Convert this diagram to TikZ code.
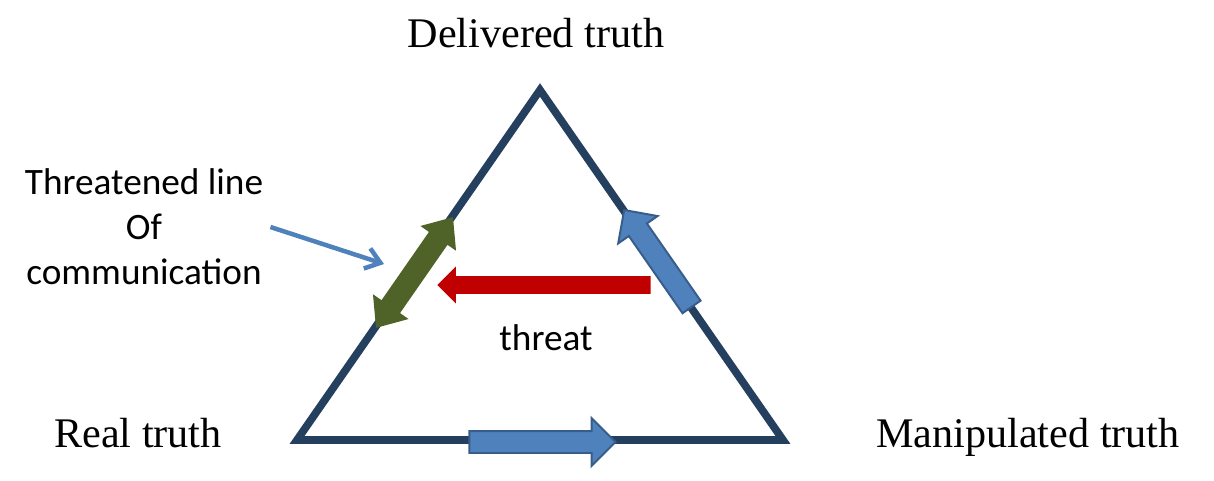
\documentclass[tikz,border=0pt]{standalone}
\usepackage{fontspec}
\setmainfont{Liberation Serif}
\newfontfamily\labelfont{Carlito}
\usetikzlibrary{shapes.arrows, arrows.meta, positioning}
\definecolor{trinavy}{HTML}{253F5F}
\definecolor{flowblue}{HTML}{4F81BD}
\definecolor{flowedge}{HTML}{385D8A}
\definecolor{linkgreen}{HTML}{4F6228}
\definecolor{threatred}{HTML}{C00000}

\begin{document}
\begin{tikzpicture}[
    x=0.025cm, y=-0.025cm,
    corner/.style={font=\fontsize{30}{36}\selectfont, anchor=base, inner sep=0pt},
    note/.style={font=\labelfont\fontsize{26.5}{32}\selectfont, align=center, inner sep=0pt},
    side/.style={draw=trinavy, line width=5.5pt, line join=miter},
    flow/.style={single arrow, draw=flowedge, fill=flowblue, line width=1.4pt, inner sep=0.25cm, minimum width=0pt, single arrow head extend=0.325cm, single arrow tip angle=90},
    link/.style={double arrow, fill=linkgreen, inner sep=0.275cm, minimum width=0pt, double arrow head extend=0.26cm, double arrow tip angle=80},
    threatarrow/.style={single arrow, fill=threatred, inner sep=0.2125cm, minimum width=0pt, single arrow head extend=0.24cm, single arrow tip angle=90},
    pointer/.style={-{Straight Barb[length=10pt, width=15pt]}, line width=3.2pt, flowblue}
]
\useasboundingbox (0,0) rectangle (1214,480);

% corners of the triangle
\coordinate (deliv) at (540,90);
\coordinate (real) at (297,440);
\coordinate (manip) at (783,440);
\draw[side] (deliv) -- (manip) -- (real) -- cycle;

% labels
\node[corner] (delivlbl) at (536,47) {Delivered truth};
\node[corner] (reallbl) at (138,447) {Real truth};
\node[corner] (maniplbl) at (1028,447) {Manipulated truth};
\node[note] (threatened) at (144,227) {Threatened line\\Of\\communication};
\node[note, anchor=base] (threatlbl) at (546,350) {threat};

% arrows on the sides
\node[flow, minimum height=3.65cm] (bottomflow) at (537,442) {};
\node[flow, minimum height=2.95cm, rotate=124.8] (rightflow) at (661,263) {};
\node[link, minimum height=3.37cm, rotate=55.2] (greenlink) at (414.5,272.5) {};
\node[threatarrow, minimum height=5.33cm, rotate=180] (threat) at (548.5,285) {};

\coordinate (aim) at (384,264);
\draw[pointer] ([xshift=5pt]threatened.east) -- (aim);
\end{tikzpicture}
\end{document}
